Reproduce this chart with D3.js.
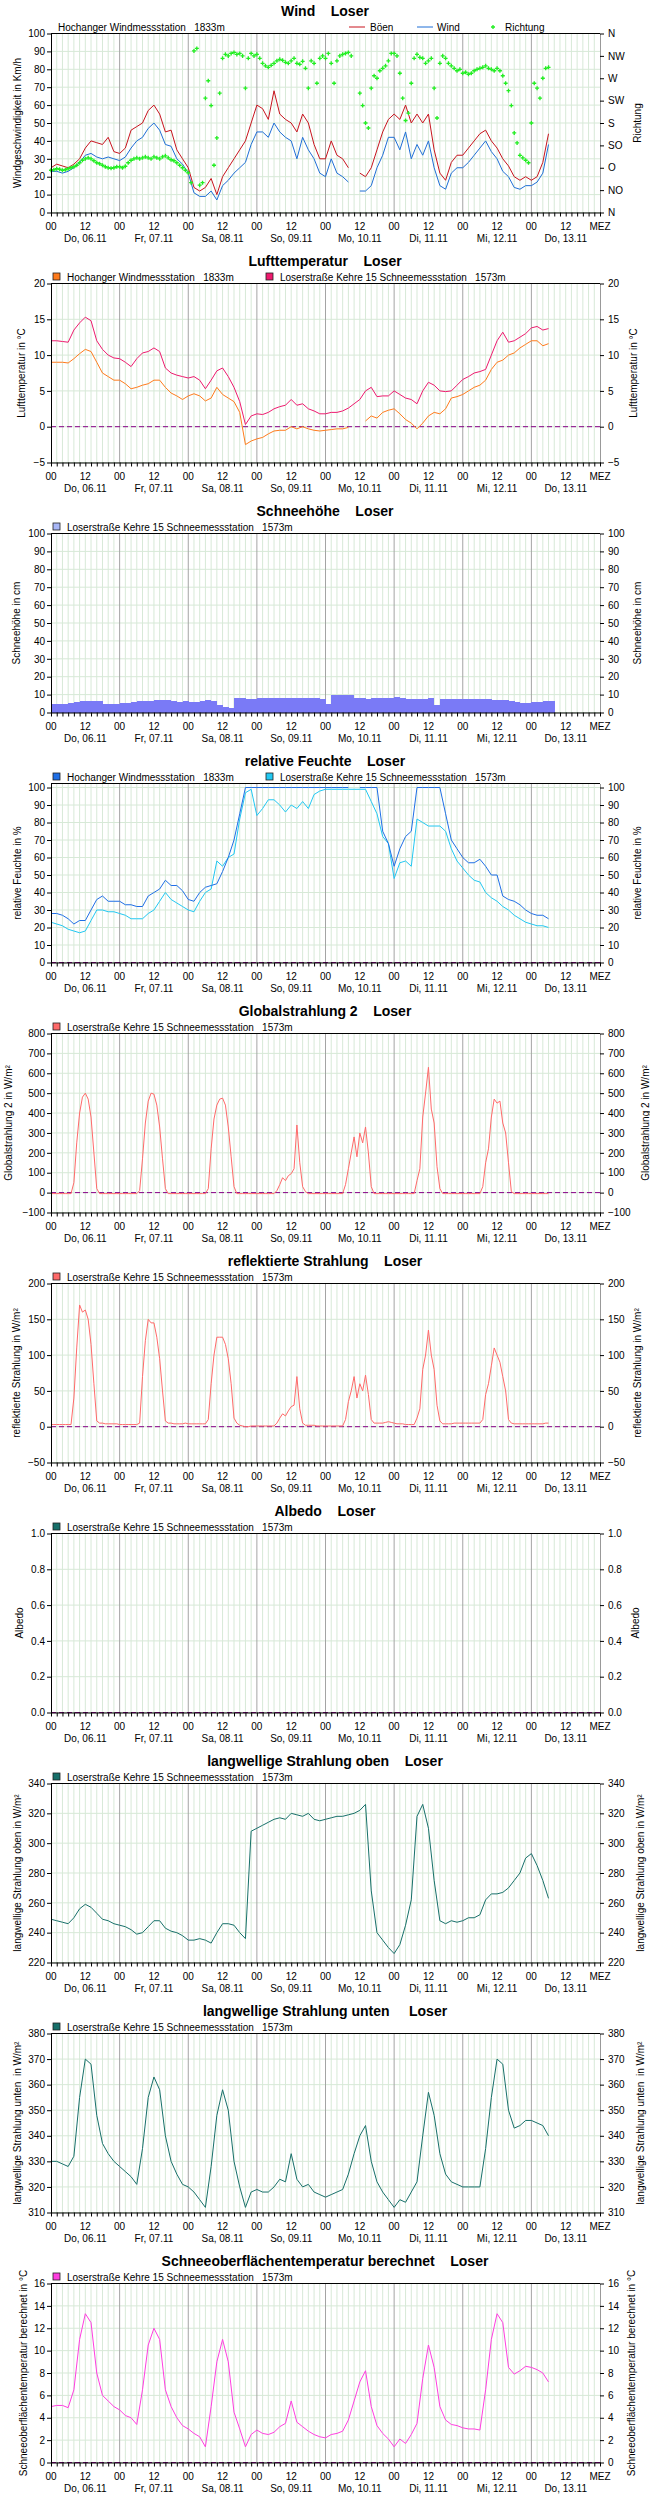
<!DOCTYPE html>
<html lang="de">
<head>
<meta charset="UTF-8">
<title>Loser</title>
<script src="https://cdn.jsdelivr.net/npm/d3@7/dist/d3.min.js"></script>
<style>
body{margin:0;background:#fff;}
svg text{font-family:"Liberation Sans",Arial,sans-serif;fill:#000;}
</style>
</head>
<body>
<script>
// Zeitachse: Stunden ab Do 06.11 00:00 MEZ, Werte im 2h-Takt (Strahlung/Richtung stündlich)
var dayLabels=["Do, 06.11","Fr, 07.11","Sa, 08.11","So, 09.11","Mo, 10.11","Di, 11.11","Mi, 12.11","Do, 13.11"];
var stationHoch="Hochanger Windmessstation\u00a0\u00a0 1833m";
var stationLoser="Loserstraße Kehre 15 Schneemessstation\u00a0\u00a0 1573m";

// Wind (km/h), 2h
var gust=[25,27,26,25,27,30,36,40,39,38,42,34,
          33,36,46,48,50,57,60,55,45,46,35,30,
          25,14,12,14,19,10,20,25,30,35,40,50,
          60,58,52,68,55,52,50,45,55,50,38,30,
          30,40,32,30,25,null,22,20,25,35,45,52,
          55,52,60,50,55,50,55,35,22,18,28,32,
          32,36,40,44,46,40,36,30,26,20,18,20,
          18,20,28,44];
var wind=[23,23,22,23,25,28,32,33,31,30,31,30,
          29,31,36,40,42,47,50,46,38,37,30,27,
          22,11,9,9,12,7,15,18,22,25,28,38,
          45,45,42,50,45,42,40,30,42,35,30,22,
          20,30,22,20,17,null,12,12,15,25,32,42,
          42,35,45,30,38,32,40,25,15,13,22,25,
          25,28,32,36,40,34,30,23,20,14,13,15,
          15,17,22,38];
// Windrichtung (Grad), stündlich
var direction=[85,86,88,87,85,86,88,90,92,95,100,105,108,110,108,104,100,98,95,92,90,89,90,92,
          92,90,93,100,105,108,110,108,110,112,110,108,112,110,108,112,114,110,106,104,100,95,90,85,
          80,60,325,330,55,60,230,265,215,95,150,240,310,318,315,320,322,318,320,315,250,310,320,315,
          318,310,300,295,292,296,300,305,308,306,302,300,305,310,300,298,304,290,250,305,300,260,310,315,
          310,320,300,260,305,315,318,320,322,315,null,null,240,215,180,170,250,275,270,285,290,295,305,320,
          320,315,280,230,185,200,260,310,318,312,310,300,305,310,250,190,300,315,310,300,295,290,285,288,
          280,282,278,280,285,288,290,292,295,290,288,285,290,285,275,260,245,215,160,140,115,110,105,100,
          180,260,250,230,270,290,292];
var dirLabels=["N","NO","O","SO","S","SW","W","NW","N"];

// Lufttemperatur (°C), 2h
var tempHoch=[9.0,9.0,9.0,8.9,9.5,10.2,10.8,10.5,9.0,7.5,7.0,6.5,
          6.5,6.0,5.3,5.5,5.8,6.0,6.5,6.5,5.5,4.7,4.3,3.8,
          4.3,4.6,4.3,3.6,4.0,5.5,4.5,4.0,3.5,2.0,-2.5,-2.0,
          -1.7,-1.5,-1.0,-0.6,-0.5,-0.5,0.0,-0.3,0.0,-0.3,-0.5,-0.6,
          -0.5,-0.4,-0.3,-0.3,-0.1,null,null,0.8,1.5,1.2,2.0,2.3,
          2.5,1.8,1.0,0.5,-0.3,0.5,1.5,2.0,1.8,2.5,4.0,4.2,
          4.5,5.0,5.5,5.8,6.5,8.0,9.0,9.3,10.0,10.3,11.0,11.5,
          12.0,12.0,11.3,11.6];
var tempLoser=[12.0,12.0,11.9,11.8,13.5,14.5,15.3,14.8,12.0,10.8,10.0,9.6,
          9.5,9.0,8.4,9.5,10.3,10.5,11.0,10.5,8.2,7.5,7.2,7.0,
          6.8,7.0,6.5,5.3,6.5,7.8,8.2,7.0,5.5,3.5,0.3,1.5,
          1.8,1.7,2.0,2.5,2.8,3.0,3.8,3.0,3.2,2.5,2.2,1.8,
          1.8,2.0,2.0,2.2,2.6,3.2,3.8,5.0,5.5,4.2,4.3,4.3,
          5.0,4.5,4.0,3.8,3.2,5.0,6.2,5.8,5.0,4.9,5.0,5.8,
          6.6,7.0,7.5,7.7,8.0,10.0,12.0,13.2,11.8,12.0,12.5,13.0,
          13.8,14.0,13.5,13.7];

// Schneehöhe (cm), 2h
var snow=[5,5,5,5.5,6,6.5,6.5,6.5,6.5,5,5,5,
          5.5,5.5,6,6.5,6.5,6.5,7,7,7,6.5,6,6.5,
          6,6,6.5,7,6.5,4,3,2.5,8,8,7.5,7.5,
          8,8,8,8,8,8,8,8,8,8,8,7.5,
          5,9.5,9.5,9.5,9.5,8,8,7.5,8,8,8,8,
          8.5,8,7.5,7.5,7.5,7.5,8,4,7.5,7.5,7.5,7.5,
          7.5,7.5,7.5,7.5,7.5,7,7,7,6.5,6,5.5,5.5,
          6,6,6.5,6.5];

// relative Feuchte (%), 2h
var rhHoch=[28,28,27,25,22,24,24,30,36,38,35,35,
          35,33,33,32,32,38,40,42,47,44,44,41,
          36,35,40,43,44,45,52,60,70,85,100,100,
          100,100,100,100,100,100,100,100,100,100,100,100,
          100,100,100,100,100,null,100,100,100,100,75,68,
          55,65,72,75,100,100,100,100,100,85,70,65,
          60,57,57,59,55,50,50,38,36,35,33,30,
          28,27,27,25];
var rhLoser=[23,22,21,19,18,17,18,24,30,30,29,29,
          28,27,25,25,25,28,30,35,40,36,34,32,
          30,29,35,40,42,58,55,60,62,82,97,99,
          84,88,93,93,90,86,90,88,92,88,96,98,
          99,99,99,99,99,99,99,99,92,85,72,68,
          48,57,58,55,82,80,78,78,78,75,65,58,
          54,50,47,46,40,37,35,32,30,27,25,23,
          22,21,21,20];

// Globalstrahlung 2 (W/m²), stündlich
var globalRad=[-5,-5,-5,-5,-5,-5,-5,-5,50,250,400,480,500,470,380,200,20,-5,-5,-5,-5,-5,-5,-5,
          -5,-5,-5,-5,-5,-5,-5,10,170,350,460,500,495,440,330,170,20,-5,-5,-5,-5,-5,-5,-5,
          -5,-5,-5,-5,-5,-5,-5,20,220,370,440,470,475,440,330,180,30,-5,-5,-5,-5,-5,-5,-5,
          -5,-5,-5,-5,-5,-5,-5,10,40,75,60,85,95,120,340,150,30,5,-5,-5,-5,-5,-5,-5,
          -5,-5,-5,-5,-5,-5,-5,40,120,200,280,180,300,250,330,200,30,-5,-5,-5,-5,-5,-5,-5,
          -5,-5,-5,-5,-5,-5,-5,-5,60,120,380,500,630,420,350,130,20,-5,-5,-5,-5,-5,-5,-5,
          -5,-5,-5,-5,-5,-5,-5,30,150,220,380,470,450,460,350,300,150,5,-5,-5,-5,-5,-5,-5,
          -5,-5,-5,-5,-5,-5,-5];
// reflektierte Strahlung (W/m²), stündlich
var reflRad=[3,3,3,3,3,3,3,3,40,110,170,160,163,150,115,60,8,5,5,4,4,4,4,4,
          3,3,3,3,3,3,3,5,70,120,150,145,145,125,95,50,8,5,5,4,4,4,4,5,
          4,4,4,4,4,4,4,10,60,100,125,125,125,115,95,60,12,5,2,1,0,0,1,1,
          1,1,1,1,1,1,1,5,12,18,15,22,28,30,70,25,5,2,2,2,2,1,1,1,
          1,1,1,1,1,1,1,10,35,50,70,40,60,50,72,45,10,5,5,5,5,6,7,6,
          5,4,4,4,3,3,3,3,12,25,80,100,135,100,80,30,8,4,4,4,4,5,5,5,
          5,5,5,5,5,5,5,10,45,60,85,110,100,90,70,50,10,5,4,4,4,4,4,4,
          4,4,4,4,4,5,5];

// langwellige Strahlung (W/m²), 2h
var lwUp=[249,248,247,246,250,256,259,257,253,249,248,246,
          245,244,242,239,240,244,248,248,243,241,240,238,
          235,235,236,235,233,240,246,246,245,240,236,308,
          310,312,314,316,317,316,320,319,318,320,316,315,
          316,317,318,318,319,320,322,326,268,240,235,230,
          226,232,245,262,318,326,310,275,248,246,248,247,
          248,250,250,252,262,266,266,267,270,275,280,290,
          293,285,275,263];
var lwDown=[330,330,329,328,332,355,370,368,348,337,333,330,
          328,326,324,321,335,355,363,358,340,330,325,321,
          320,318,315,312,328,348,358,350,330,320,312,318,
          319,318,318,320,323,322,333,323,320,321,318,317,
          316,317,318,319,325,333,340,344,330,322,318,315,
          312,315,314,318,322,340,357,348,333,325,322,321,
          320,320,320,320,335,355,370,368,350,343,344,346,
          346,345,344,340];

// Schneeoberflächentemperatur berechnet (°C), 2h
var surfTemp=[5.0,5.1,5.1,4.9,6.5,11.0,13.3,12.5,8.0,6.0,5.5,5.0,
          4.7,4.2,4.0,3.4,6.5,10.5,12.0,11.0,6.5,5.0,4.0,3.3,
          3.0,2.6,2.3,1.4,5.0,9.0,11.0,9.0,4.5,3.0,1.4,2.5,
          2.9,2.6,2.5,2.7,3.2,3.5,5.5,3.6,3.2,2.8,2.5,2.3,
          2.2,2.5,2.6,2.8,3.8,5.5,7.2,8.2,5.0,3.3,2.6,2.1,
          1.4,2.1,1.7,2.5,3.5,7.5,10.5,8.5,5.0,3.8,3.4,3.3,
          3.1,3.0,3.0,2.9,6.5,11.0,13.3,12.5,8.5,7.9,8.2,8.6,
          8.5,8.3,8.0,7.2];

var W=650, panelH=250;
var plotTop=33.5, plotBottom=212.5;
var gridColor="#d7e9d7", dayColor="#a4a4a4";
var svg=d3.select("body").append("svg").attr("width",W).attr("height",10*panelH);
var x=d3.scaleLinear().domain([0,192]).range([51,600]);
var hourTicks=d3.range(0,193,2);

function seriesLine(g,y,data,step,color){
    var line=d3.line().defined(function(d){return d!=null;})
        .x(function(d,i){return x(i*step);})
        .y(function(d){return y(d);});
    g.append("path").datum(data).attr("d",line)
        .attr("fill","none").attr("stroke",color).attr("stroke-width",1);
}

function legendBox(g,lx,text,color){
    g.append("rect").attr("x",lx).attr("y",23).attr("width",7).attr("height",7)
        .attr("fill",color).attr("stroke","#222").attr("stroke-width",0.8);
    g.append("text").attr("x",lx+14).attr("y",30.5).attr("font-size","10px").text(text);
}

function panel(idx,o){
    var g=svg.append("g").attr("transform","translate(0,"+(idx*panelH)+")");
    var y=d3.scaleLinear().domain(o.domain).range([plotBottom,plotTop]);

    // titel
    g.append("text").attr("x",325).attr("y",15.5).attr("text-anchor","middle")
        .attr("font-size","14px").attr("font-weight","bold").text(o.title);

    // gitter
    g.append("g").selectAll("line").data(o.ticks).enter().append("line")
        .attr("x1",x(0)).attr("x2",x(192))
        .attr("y1",function(d){return y(d);}).attr("y2",function(d){return y(d);})
        .attr("stroke",gridColor);
    g.append("g").selectAll("line").data(hourTicks.filter(function(h){return h%24!==0;})).enter().append("line")
        .attr("x1",function(d){return x(d);}).attr("x2",function(d){return x(d);})
        .attr("y1",plotTop).attr("y2",plotBottom).attr("stroke",gridColor);
    g.append("g").selectAll("line").data(d3.range(24,192,24)).enter().append("line")
        .attr("x1",function(d){return x(d);}).attr("x2",function(d){return x(d);})
        .attr("y1",plotTop).attr("y2",plotBottom).attr("stroke",dayColor);

    if(o.zeroLine){
        g.append("line").attr("x1",x(0)).attr("x2",x(192)).attr("y1",y(0)).attr("y2",y(0))
            .attr("stroke","#880088").attr("stroke-dasharray","5,3");
    }

    if(o.draw) o.draw(g,y);

    // achsen
    g.append("line").attr("x1",x(0)).attr("x2",x(192)).attr("y1",plotTop).attr("y2",plotTop)
        .attr("stroke","#000");
    var left=g.append("g").attr("transform","translate("+x(0)+",0)")
        .call(d3.axisLeft(y).tickValues(o.ticks).tickSize(4).tickSizeOuter(0).tickPadding(2).tickFormat(o.fmt));
    var yR=o.yRight||y;
    var right=g.append("g").attr("transform","translate("+x(192)+",0)")
        .call(d3.axisRight(yR).tickValues(o.rightTicks||o.ticks).tickSize(4).tickSizeOuter(0).tickPadding(4)
            .tickFormat(o.rightFmt||o.fmt));
    var bottom=g.append("g").attr("transform","translate(0,"+plotBottom+")")
        .call(d3.axisBottom(x).tickValues(hourTicks).tickSize(4).tickSizeOuter(0).tickFormat(""));
    [left,right,bottom].forEach(function(a){
        a.selectAll("text").attr("font-size","10px").attr("font-family",null).style("fill","#000");
        a.selectAll("line").attr("stroke","#000");
    });
    left.select(".domain").attr("stroke","#000");
    right.select(".domain").attr("stroke","#999");
    bottom.select(".domain").attr("stroke","#000");

    // x-beschriftung
    g.append("g").selectAll("text").data(d3.range(0,193,12)).enter().append("text")
        .attr("x",function(d){return x(d);}).attr("y",229.5).attr("text-anchor","middle")
        .attr("font-size","10px")
        .text(function(d){return d===192?"MEZ":(d%24===0?"00":"12");});
    g.append("g").selectAll("text").data(dayLabels).enter().append("text")
        .attr("x",function(d,i){return x(i*24+12);}).attr("y",241.5).attr("text-anchor","middle")
        .attr("font-size","10px").text(function(d){return d;});

    // achsentitel
    g.append("text").attr("transform","translate("+(o.lx+3.5)+","+((plotTop+plotBottom)/2)+") rotate(-90)")
        .attr("text-anchor","middle").attr("font-size","10px").text(o.ytitle);
    g.append("text").attr("transform","translate("+(o.rx+3.5)+","+((plotTop+plotBottom)/2)+") rotate(-90)")
        .attr("text-anchor","middle").attr("font-size","10px").text(o.rtitle||o.ytitle);

    if(o.legend) o.legend(g);
}

var f0=d3.format("d");

// 1 Wind
panel(0,{
    title:"Wind\u00a0\u00a0\u00a0 Loser", domain:[0,100], ticks:d3.range(0,101,10), fmt:f0,
    yRight:d3.scaleLinear().domain([0,360]).range([plotBottom,plotTop]),
    rightTicks:d3.range(0,361,45), rightFmt:function(d,i){return dirLabels[i];},
    ytitle:"Windgeschwindigkeit in Km/h", rtitle:"Richtung", lx:17, rx:637,
    draw:function(g,y){
        seriesLine(g,y,gust,2,"#c8141e");
        seriesLine(g,y,wind,2,"#1f6fd6");
        var yd=d3.scaleLinear().domain([0,360]).range([plotBottom,plotTop]);
        var sym=d3.symbol().type(d3.symbolCross).size(9);
        g.append("g").selectAll("path").data(direction.map(function(d,i){return {h:i,v:d};})
            .filter(function(d){return d.v!=null;})).enter().append("path")
            .attr("d",sym).attr("fill","#22ee22")
            .attr("transform",function(d){return "translate("+x(d.h)+","+yd(d.v)+")";});
    },
    legend:function(g){
        g.append("text").attr("x",58).attr("y",30.5).attr("font-size","10px").text(stationHoch);
        g.append("line").attr("x1",349).attr("x2",365).attr("y1",27).attr("y2",27).attr("stroke","#c8141e");
        g.append("text").attr("x",370).attr("y",30.5).attr("font-size","10px").text("Böen");
        g.append("line").attr("x1",417).attr("x2",433).attr("y1",27).attr("y2",27).attr("stroke","#1f6fd6");
        g.append("text").attr("x",437).attr("y",30.5).attr("font-size","10px").text("Wind");
        g.append("path").attr("d",d3.symbol().type(d3.symbolCross).size(9)).attr("fill","#22ee22")
            .attr("transform","translate(493,27)");
        g.append("text").attr("x",505).attr("y",30.5).attr("font-size","10px").text("Richtung");
    }
});

// 2 Lufttemperatur
panel(1,{
    title:"Lufttemperatur\u00a0\u00a0\u00a0 Loser", domain:[-5,20], ticks:d3.range(-5,21,5), fmt:f0,
    ytitle:"Lufttemperatur in °C", lx:21, rx:633, zeroLine:true,
    draw:function(g,y){
        seriesLine(g,y,tempHoch,2,"#ff7b1c");
        seriesLine(g,y,tempLoser,2,"#ee1a6e");
    },
    legend:function(g){
        legendBox(g,53,stationHoch,"#ff7b1c");
        legendBox(g,266,stationLoser,"#ee1a6e");
    }
});

// 3 Schneehöhe
panel(2,{
    title:"Schneehöhe\u00a0\u00a0\u00a0 Loser", domain:[0,100], ticks:d3.range(0,101,10), fmt:f0,
    ytitle:"Schneehöhe in cm", lx:16, rx:637,
    draw:function(g,y){
        g.append("g").selectAll("rect").data(snow).enter().append("rect")
            .attr("x",function(d,i){return x(i*2);})
            .attr("width",function(d,i){return x(i*2+2)-x(i*2)+0.3;})
            .attr("y",function(d){return y(d);})
            .attr("height",function(d){return y(0)-y(d);})
            .attr("fill","#7a7af6").attr("shape-rendering","crispEdges");
    },
    legend:function(g){ legendBox(g,53,stationLoser,"#a8b6f6"); }
});

// 4 relative Feuchte
panel(3,{
    title:"relative Feuchte\u00a0\u00a0\u00a0 Loser", domain:[0,102.3], ticks:d3.range(0,101,10), fmt:f0,
    ytitle:"relative Feuchte in %", lx:17, rx:637, zeroLine:true,
    draw:function(g,y){
        seriesLine(g,y,rhLoser,2,"#22c8f2");
        seriesLine(g,y,rhHoch,2,"#1f6fe6");
    },
    legend:function(g){
        legendBox(g,53,stationHoch,"#1f6fe6");
        legendBox(g,266,stationLoser,"#22c8f2");
    }
});

// 5 Globalstrahlung 2
panel(4,{
    title:"Globalstrahlung 2\u00a0\u00a0\u00a0 Loser", domain:[-100,800], ticks:d3.range(-100,801,100), fmt:f0,
    ytitle:"Globalstrahlung 2 in W/m²", lx:8, rx:645, zeroLine:true,
    draw:function(g,y){ seriesLine(g,y,globalRad,1,"#ff6a6a"); },
    legend:function(g){ legendBox(g,53,stationLoser,"#ff6a6a"); }
});

// 6 reflektierte Strahlung
panel(5,{
    title:"reflektierte Strahlung\u00a0\u00a0\u00a0 Loser", domain:[-50,200], ticks:d3.range(-50,201,50), fmt:f0,
    ytitle:"reflektierte Strahlung in W/m²", lx:16, rx:637, zeroLine:true,
    draw:function(g,y){ seriesLine(g,y,reflRad,1,"#ff6a6a"); },
    legend:function(g){ legendBox(g,53,stationLoser,"#ff6a6a"); }
});

// 7 Albedo (keine Daten)
panel(6,{
    title:"Albedo\u00a0\u00a0\u00a0 Loser", domain:[0,1], ticks:[0,0.2,0.4,0.6,0.8,1], fmt:d3.format(".1f"),
    ytitle:"Albedo", lx:19, rx:635, zeroLine:true,
    legend:function(g){ legendBox(g,53,stationLoser,"#17706a"); }
});

// 8 langwellige Strahlung oben
panel(7,{
    title:"langwellige Strahlung oben\u00a0\u00a0\u00a0 Loser", domain:[220,340], ticks:d3.range(220,341,20), fmt:f0,
    ytitle:"langwellige Strahlung oben in W/m²", lx:17, rx:640,
    draw:function(g,y){ seriesLine(g,y,lwUp,2,"#17706a"); },
    legend:function(g){ legendBox(g,53,stationLoser,"#17706a"); }
});

// 9 langwellige Strahlung unten
panel(8,{
    title:"langwellige Strahlung unten\u00a0\u00a0\u00a0\u00a0 Loser", domain:[310,380], ticks:d3.range(310,381,10), fmt:f0,
    ytitle:"langwellige Strahlung unten\u00a0 in W/m²", lx:17, rx:640,
    draw:function(g,y){ seriesLine(g,y,lwDown,2,"#17706a"); },
    legend:function(g){ legendBox(g,53,stationLoser,"#17706a"); }
});

// 10 Schneeoberflächentemperatur
panel(9,{
    title:"Schneeoberflächentemperatur berechnet\u00a0\u00a0\u00a0 Loser", domain:[0,16], ticks:d3.range(0,17,2), fmt:f0,
    ytitle:"Schneeoberflächentemperatur berechnet in °C", lx:23, rx:631, zeroLine:true,
    draw:function(g,y){ seriesLine(g,y,surfTemp,2,"#ff3ee0"); },
    legend:function(g){ legendBox(g,53,stationLoser,"#ff3ee0"); }
});
</script>
</body>
</html>
